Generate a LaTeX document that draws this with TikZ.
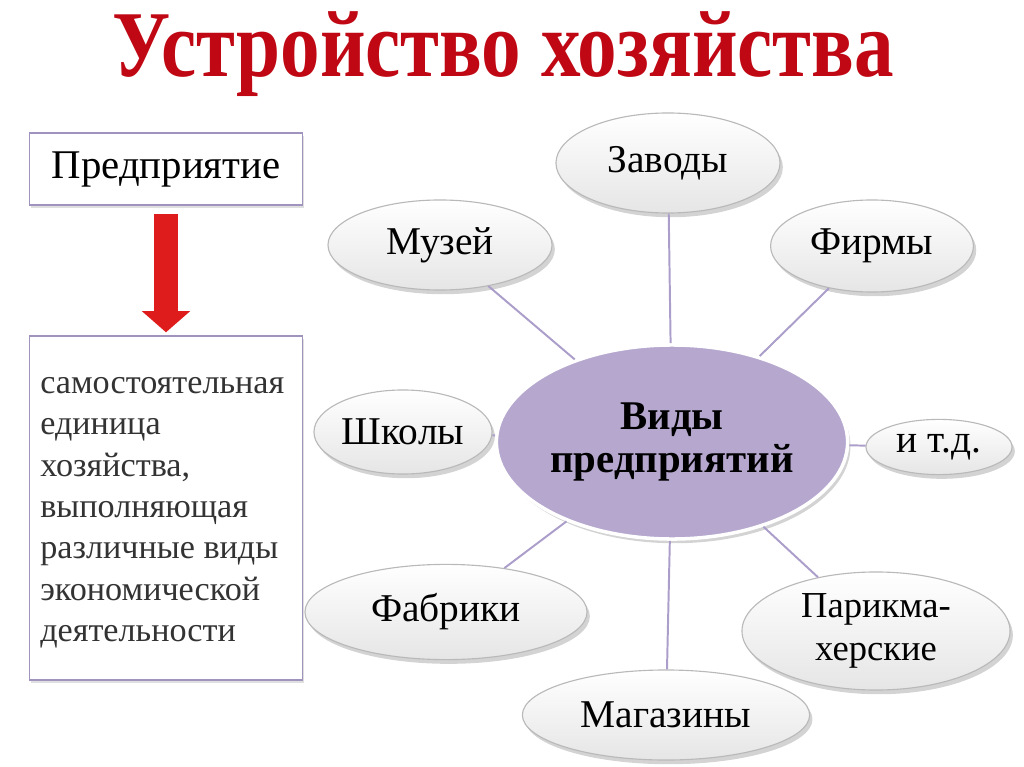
\documentclass[tikz,border=0pt]{standalone}
\usepackage{fontspec}
\setmainfont{Liberation Serif}
\newfontfamily\titlefont[FakeStretch=0.84]{Liberation Serif}
\usetikzlibrary{shapes.geometric,shadows,arrows.meta}
\definecolor{frame}{RGB}{160,148,190}
\definecolor{spoke}{RGB}{172,158,202}
\definecolor{lilac}{RGB}{181,167,206}
\definecolor{titlered}{RGB}{192,8,20}
\definecolor{arrowred}{RGB}{222,28,28}

\begin{document}
\begin{tikzpicture}[x = 0.025cm, y = -0.025cm,
  box/.style = {rectangle, draw = frame, line width = 1.2pt, fill = white, inner sep = 0pt,
    drop shadow = {shadow xshift = 1pt, shadow yshift = -2pt, opacity = 0.25}},
  kind/.style = {ellipse, draw = gray!55, line width = 0.8pt, top color = white, bottom color = gray!20,
    inner sep = 0pt, align = center, font = \fontsize{28}{30}\selectfont,
    drop shadow = {shadow xshift = 2pt, shadow yshift = -3pt, opacity = 0.35}},
  spk/.style = {draw = spoke, line width = 1.4pt}]
\useasboundingbox (0,0) rectangle (1024,767);

\node[text = titlered, font = \titlefont\bfseries\fontsize{67}{67}\selectfont] (title) at (503,54) {Устройство хозяйства};

\node[box, minimum width = 6.83cm, minimum height = 1.8cm, font = \fontsize{29}{32}\selectfont] (pred) at (166,169) {Предприятие};
\node[box, minimum width = 6.83cm, minimum height = 8.6cm] (desc) at (166,508) {};
\node[anchor = north west, inner sep = 0pt, align = left, text = black!80, font = \fontsize{24.3}{29.4}\selectfont] (desctext) at (40,377)
  {самостоятельная\\единица\\хозяйства,\\выполняющая\\различные виды\\экономической\\деятельности};
\draw[arrowred, line width = 0.575cm, shorten <= 0.2cm, shorten >= 0.07cm,
  -{Triangle[width = 1.18cm, length = 0.53cm]}] (pred.south) -- (desc.north);

\node[ellipse, fill = lilac, draw = white, line width = 2.5pt, minimum width = 8.78cm, minimum height = 4.85cm,
  inner sep = 0pt, align = center, font = \bfseries\fontsize{29}{31}\selectfont,
  drop shadow = {shadow xshift = 2pt, shadow yshift = -3pt, opacity = 0.35}] (c) at (672,442) {Виды\\предприятий};

\node[kind, minimum width = 5.6cm, minimum height = 2.5cm] (zav) at (668,163) {Заводы};
\node[kind, minimum width = 5.6cm, minimum height = 2.25cm] (muz) at (440,245) {Музей};
\node[kind, minimum width = 5.07cm, minimum height = 2.3cm] (fir) at (872,246) {Фирмы};
\node[kind, minimum width = 4.45cm, minimum height = 2.1cm] (shk) at (403,432) {Школы};
\node[kind, minimum width = 3.65cm, minimum height = 1.38cm] (etc) at (939,447) {и т.д.};
\node[kind, minimum width = 7.05cm, minimum height = 2.38cm] (fab) at (446,612) {Фабрики};
\node[kind, minimum width = 6.7cm, minimum height = 2.95cm, font = \fontsize{26}{31}\selectfont] (par) at (876,631) {Парикма-\\херские};
\node[kind, minimum width = 7.18cm, minimum height = 2.25cm] (mag) at (666,715) {Магазины};

\draw[spk] (c) -- (zav);
\draw[spk] (c) -- (muz);
\draw[spk] (c) -- (fir);
\draw[spk] (c) -- (shk);
\draw[spk] (c) -- (etc);
\draw[spk] (c) -- (fab);
\draw[spk] (c) -- (par);
\draw[spk] (c) -- (mag);
\end{tikzpicture}
\end{document}
